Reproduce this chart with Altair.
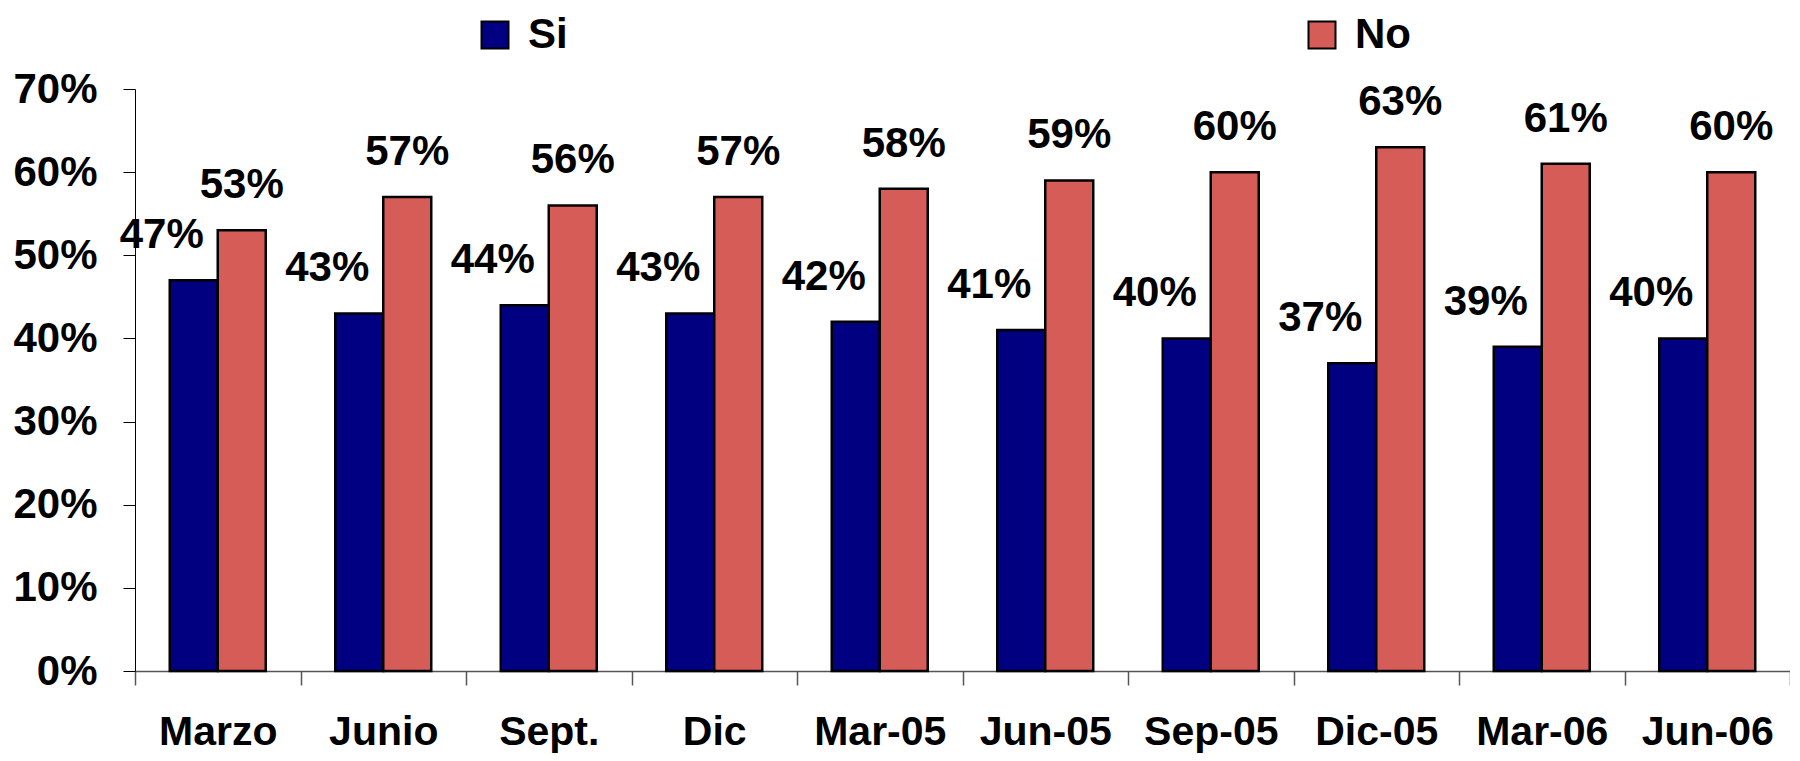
import altair as alt
import pandas as pd

categories = ["Marzo", "Junio", "Sept.", "Dic", "Mar-05", "Jun-05", "Sep-05", "Dic-05", "Mar-06", "Jun-06"]
si_values = [47, 43, 44, 43, 42, 41, 40, 37, 39, 40]
no_values = [53, 57, 56, 57, 58, 59, 60, 63, 61, 60]
series = ["Si", "No"]
y_ticks = [0, 0.1, 0.2, 0.3, 0.4, 0.5, 0.6, 0.7]

rows = []
for c, s, n in zip(categories, si_values, no_values):
    rows.append({"cat": c, "series": "Si", "value": s / 100})
    rows.append({"cat": c, "series": "No", "value": n / 100})
df = pd.DataFrame(rows)

FONT = "Liberation Sans"
FS = 42
W = 1655
H = 582

x_enc = alt.X("cat:N", sort=categories,
              scale=alt.Scale(paddingInner=0, paddingOuter=0),
              axis=alt.Axis(title=None, labelAngle=0, tickBand="extent",
                            tickSize=14, labelPadding=27, labelFont=FONT,
                            labelFontSize=41, labelFontWeight="bold",
                            labelColor="black", tickColor="#555",
                            domainColor="#555", domainWidth=1.5, tickWidth=1.5,
                            grid=False, labelLimit=300))
xo_enc = alt.XOffset("series:N", sort=series,
                     scale=alt.Scale(domain=series, paddingInner=0, paddingOuter=0.724))
y_enc = alt.Y("value:Q",
              scale=alt.Scale(domain=[0, 0.7], nice=False, zero=True),
              axis=alt.Axis(title=None, values=y_ticks, format=".0%",
                            tickSize=12, labelPadding=26, labelFont=FONT,
                            labelFontSize=FS, labelFontWeight="bold",
                            labelColor="black", tickColor="black",
                            domainColor="black", grid=False))

base = alt.Chart(df)

bars = base.mark_bar(stroke="black", strokeWidth=2.5).encode(
    x=x_enc,
    xOffset=xo_enc,
    y=y_enc,
    fill=alt.Fill("series:N", sort=series,
                  scale=alt.Scale(domain=series, range=["#000080", "#D65C58"]),
                  legend=alt.Legend(title=None, orient="none", legendX=339, legendY=-75,
                                    direction="horizontal", columns=2,
                                    symbolType="square", symbolSize=729,
                                    symbolStrokeColor="black", symbolStrokeWidth=2,
                                    labelFont=FONT, labelFontSize=FS,
                                    labelFontWeight="bold", labelColor="black",
                                    labelOffset=12, columnPadding=733,
                                    gridAlign="none", labelLimit=200)),
)

si_labels = base.transform_filter(alt.datum.series == "Si").mark_text(
    font=FONT, fontSize=FS, fontWeight="bold", color="black",
    align="center", baseline="middle", dx=-32, dy=-45,
).encode(x=x_enc, xOffset=xo_enc, y=y_enc, text=alt.Text("value:Q", format=".0%"))

no_labels = base.transform_filter(alt.datum.series == "No").mark_text(
    font=FONT, fontSize=FS, fontWeight="bold", color="black",
    align="center", baseline="middle", dx=0, dy=-45,
).encode(x=x_enc, xOffset=xo_enc, y=y_enc, text=alt.Text("value:Q", format=".0%"))

chart = alt.layer(bars, si_labels, no_labels).properties(
    width=W, height=H,
    autosize=alt.AutoSizeParams(type="none"),
    padding={"left": 127, "top": 81, "right": 0, "bottom": 82},
    background="white",
).configure_view(stroke=None)

chart.save("out.html", embed_options={"renderer": "svg", "actions": False})
